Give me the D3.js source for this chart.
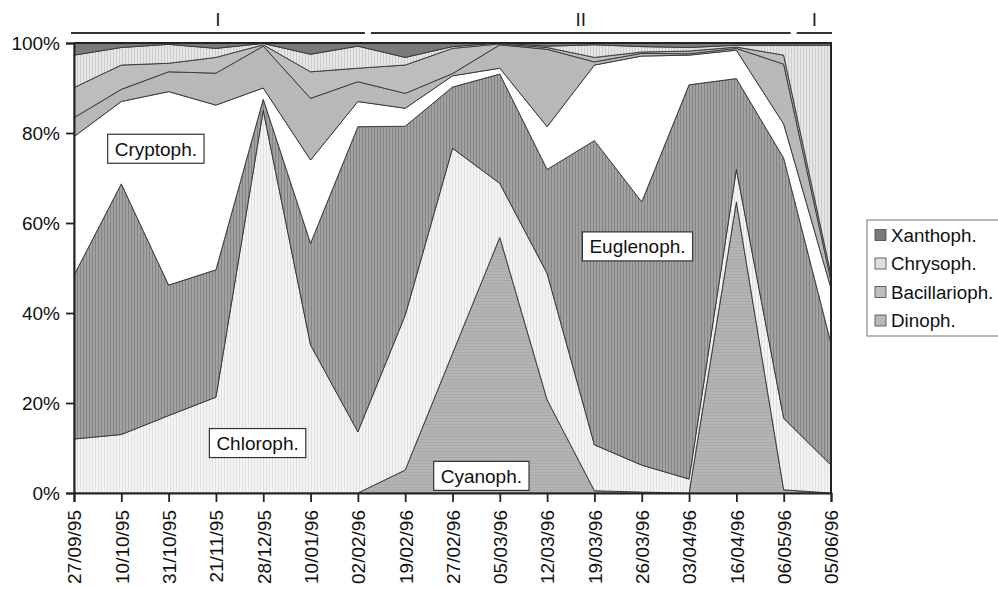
<!DOCTYPE html>
<html>
<head>
<meta charset="utf-8">
<script src="https://cdnjs.cloudflare.com/ajax/libs/d3/7.8.5/d3.min.js"></script>
<style>
  body { margin: 0; background: #fff; }
  svg { font-family: "Liberation Sans", Arial, sans-serif; }
</style>
</head>
<body>
<div id="chart"></div>
<script>
// sampling dates
var dates = ["27/09/95","10/10/95","31/10/95","21/11/95","28/12/95","10/01/96","02/02/96","19/02/96",
             "27/02/96","05/03/96","12/03/96","19/03/96","26/03/96","03/04/96","16/04/96","06/05/96","05/06/96"];

// relative share (%) of each group, bottom to top of the stack
var cyanoph      = [0, 0, 0, 0, 0, 0, 0, 5.1, 31, 56.8, 20.7, 0.5, 0.2, 0, 64.7, 0.7, 0];
var chloroph     = [12, 13, 17.2, 21.3, 85, 32.9, 13.6, 34.4, 45.6, 12.0, 28.1, 10.2, 6.0, 3.1, 7.2, 15.9, 6.2];
var euglenoph    = [36.4, 55.7, 29.0, 28.3, 2.5, 22.6, 67.8, 42.0, 13.6, 24.3, 23.1, 67.6, 58.5, 87.6, 20.2, 57.8, 27.1];
var cryptoph     = [30.8, 18.3, 43.0, 36.6, 2.5, 18.5, 5.6, 4.0, 2.5, 1.3, 9.5, 16.8, 32.4, 6.6, 6.3, 7.6, 12.2];
var dinoph       = [4.2, 2.7, 4.4, 7.1, 9.3, 13.7, 4.4, 3.3, 0.5, 5.2, 17.2, 0.7, 0.6, 0.3, 0.4, 13.3, 1.7];
var bacillarioph = [6.7, 5.4, 1.9, 3.5, 0.3, 5.9, 3.0, 6.3, 5.6, 0.2, 0.4, 1.0, 0.3, 0.6, 0.3, 2.0, 1.3];
var chrysoph     = [7.2, 3.9, 4.2, 2.0, 0.3, 3.9, 4.9, 1.7, 0.4, 0.2, 0.3, 2.8, 1.2, 0.8, 0.4, 2.2, 51.0];
var xanthoph     = [2.7, 1.0, 0.3, 1.2, 0.1, 2.5, 0.7, 3.2, 0.8, 0, 0.7, 0.4, 0.8, 1.0, 0.5, 0.5, 0.5];

var taxa = ["Cyanoph.","Chloroph.","Euglenoph.","Cryptoph.","Dinoph.","Bacillarioph.","Chrysoph.","Xanthoph."];
var series = [cyanoph, chloroph, euglenoph, cryptoph, dinoph, bacillarioph, chrysoph, xanthoph];
var legendTaxa = ["Xanthoph.","Chrysoph.","Bacillarioph.","Dinoph."];
var inlineTaxa = ["Cryptoph.","Euglenoph.","Chloroph.","Cyanoph."];
var yTicks = [0, 20, 40, 60, 80, 100];

// hydrological periods (date index from / to)
var periodLabels = ["I", "II", "I"];
var periodFrom = [0, 6, 15];
var periodTo = [6, 15, 16];

var W = 998, H = 589;
var margin = {top: 43, left: 74, right: 166, bottom: 96};
var width = W - margin.left - margin.right,
    height = H - margin.top - margin.bottom;

var svg = d3.select("#chart")
  .append("svg")
  .attr("width", W)
  .attr("height", H);

// stripe patterns, imitating the scanned fills
var defs = svg.append("defs");
function stripes(id, base, line, vertical, step) {
  var p = defs.append("pattern")
    .attr("id", id)
    .attr("patternUnits", "userSpaceOnUse")
    .attr("width", step).attr("height", step);
  p.append("rect").attr("width", step).attr("height", step).attr("fill", base);
  if (vertical) p.append("rect").attr("width", 1).attr("height", step).attr("fill", line);
  else p.append("rect").attr("width", step).attr("height", 1).attr("fill", line);
}
stripes("p-cyan", "#b4b4b4", "#a9a9a9", false, 3);
stripes("p-chlor", "#f4f4f4", "#e0e0e0", true, 3);
stripes("p-eugl", "#a2a2a2", "#838383", true, 3);
stripes("p-chrys", "#e6e6e6", "#cdcdcd", true, 3);

var fills = {
  "Cyanoph.": "url(#p-cyan)",
  "Chloroph.": "url(#p-chlor)",
  "Euglenoph.": "url(#p-eugl)",
  "Cryptoph.": "#ffffff",
  "Dinoph.": "#b8b8b8",
  "Bacillarioph.": "#bdbdbd",
  "Chrysoph.": "url(#p-chrys)",
  "Xanthoph.": "#7a7a7a"
};
var swatch = {"Xanthoph.": "#7a7a7a", "Chrysoph.": "#e0e0e0", "Bacillarioph.": "#bdbdbd", "Dinoph.": "#b8b8b8"};

var g = svg.append("g")
  .attr("transform", "translate(" + margin.left + "," + margin.top + ")");

var x = d3.scaleLinear().domain([0, dates.length - 1]).range([0, width - 1]);
var y = d3.scaleLinear().domain([0, 100]).range([height, 0]);

// build table for the stack
var table = dates.map(function(d, i) {
  var row = {i: i};
  taxa.forEach(function(t, k) { row[t] = series[k][i]; });
  return row;
});
var stacked = d3.stack().keys(taxa)(table);

var area = d3.area()
  .x(function(d) { return x(d.data.i); })
  .y0(function(d) { return y(d[0]); })
  .y1(function(d) { return y(d[1]); });

g.selectAll(".layer")
  .data(stacked)
  .enter().append("path")
  .attr("class", "layer")
  .attr("d", area)
  .attr("fill", function(d) { return fills[d.key]; })
  .attr("stroke", "#333")
  .attr("stroke-width", 0.9)
  .attr("stroke-linejoin", "round");

// frame top and right
g.append("path")
  .attr("d", "M0,0H" + x(dates.length - 1) + "V" + height)
  .attr("fill", "none")
  .attr("stroke", "#222")
  .attr("stroke-width", 2);

// y axis
var yAxis = g.append("g")
  .attr("class", "axis")
  .call(d3.axisLeft(y).tickValues(yTicks).tickSize(8).tickPadding(6)
    .tickFormat(function(d) { return d + "%"; }));

// x axis
var xAxis = g.append("g")
  .attr("class", "axis")
  .attr("transform", "translate(0," + height + ")")
  .call(d3.axisBottom(x).tickValues(d3.range(dates.length)).tickSize(9)
    .tickFormat(function(i) { return dates[i]; }));

xAxis.selectAll("text")
  .attr("transform", "rotate(-90)")
  .attr("x", -17)
  .attr("y", 0)
  .attr("dy", "0.36em")
  .style("text-anchor", "end");

svg.selectAll(".axis path, .axis line")
  .attr("stroke", "#222")
  .attr("stroke-width", 1.8);
svg.selectAll(".axis .domain").attr("stroke-width", 2);
svg.selectAll(".axis text")
  .attr("fill", "#111")
  .style("font-size", "19px");

// period bars above the plot
periodLabels.forEach(function(lab, k) {
  var x0 = x(periodFrom[k]) + (k == 0 ? -3 : 13);
  var x1 = x(periodTo[k]) + (k == periodLabels.length - 1 ? 1 : 7);
  g.append("line")
    .attr("x1", x0).attr("x2", x1)
    .attr("y1", -10).attr("y2", -10)
    .attr("stroke", "#333")
    .attr("stroke-width", 2.2);
  g.append("text")
    .attr("x", (x0 + x1) / 2)
    .attr("y", -17)
    .attr("text-anchor", "middle")
    .style("font-size", "19px")
    .attr("fill", "#222")
    .text(lab);
});

// inline labels (date index, percent)
var inlinePos = {
  "Cryptoph.": [1.73, 76.5],
  "Euglenoph.": [11.91, 54.8],
  "Chloroph.": [3.88, 11.1],
  "Cyanoph.": [8.61, 3.8]
};
inlineTaxa.forEach(function(t) {
  var p = inlinePos[t];
  var lg = g.append("g")
    .attr("transform", "translate(" + x(p[0]) + "," + y(p[1]) + ")");
  var txt = lg.append("text")
    .attr("text-anchor", "middle")
    .attr("dy", "0.36em")
    .style("font-size", "19px")
    .attr("fill", "#111")
    .text(t);
  var bb = txt.node().getBBox();
  lg.insert("rect", "text")
    .attr("x", bb.x - 7).attr("y", -14.5)
    .attr("width", bb.width + 14).attr("height", 29)
    .attr("fill", "#fff")
    .attr("stroke", "#333")
    .attr("stroke-width", 1.2);
});

// legend
var legend = svg.append("g")
  .attr("transform", "translate(867,220)");
legend.append("rect")
  .attr("width", 140).attr("height", 116)
  .attr("fill", "#fff")
  .attr("stroke", "#777")
  .attr("stroke-width", 1);
legendTaxa.forEach(function(t, k) {
  var row = legend.append("g")
    .attr("transform", "translate(0," + (15 + k * 28.5) + ")");
  row.append("rect")
    .attr("x", 8).attr("y", -5.5)
    .attr("width", 11).attr("height", 11)
    .attr("fill", swatch[t])
    .attr("stroke", "#444")
    .attr("stroke-width", 0.8);
  row.append("text")
    .attr("x", 24)
    .attr("dy", "0.36em")
    .style("font-size", "18.8px")
    .attr("fill", "#111")
    .text(t);
});
</script>
</body>
</html>
